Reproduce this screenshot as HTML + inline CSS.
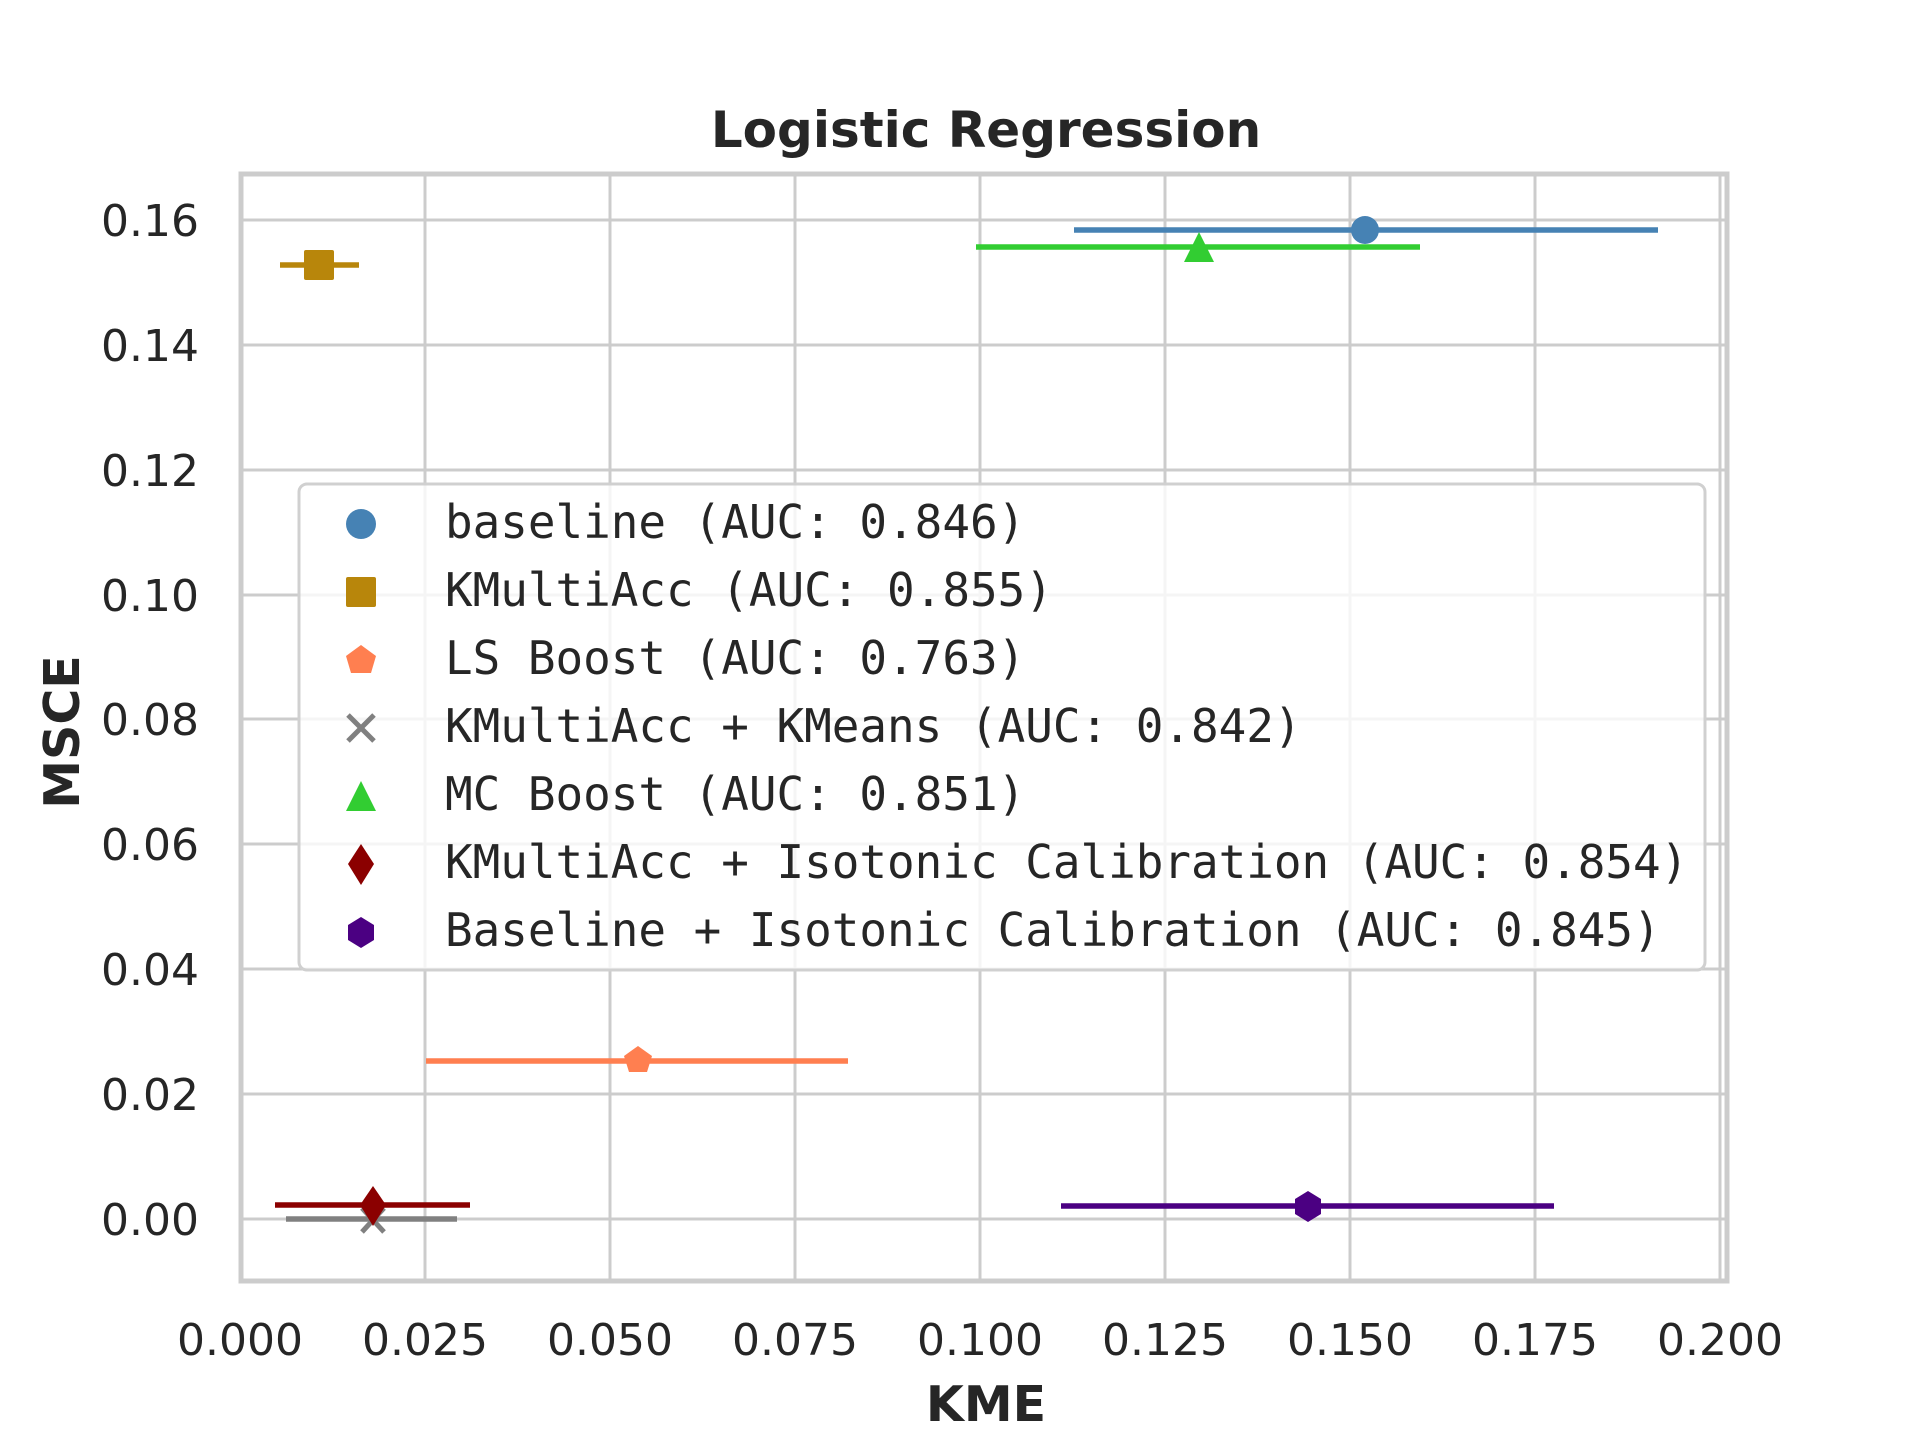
<!DOCTYPE html>
<html><head><meta charset="utf-8"><style>
html,body{margin:0;padding:0;background:#fff;}
svg{display:block;}
</style></head><body>
<svg width="1920" height="1440" viewBox="0 0 1920 1440" xmlns="http://www.w3.org/2000/svg">
<rect width="1920" height="1440" fill="#fff"/>
<!-- grid -->
<g stroke="#cccccc" stroke-width="3">
<line x1="425" y1="174" x2="425" y2="1281"/>
<line x1="610" y1="174" x2="610" y2="1281"/>
<line x1="795" y1="174" x2="795" y2="1281"/>
<line x1="980" y1="174" x2="980" y2="1281"/>
<line x1="1165" y1="174" x2="1165" y2="1281"/>
<line x1="1350" y1="174" x2="1350" y2="1281"/>
<line x1="1535" y1="174" x2="1535" y2="1281"/>
<line x1="1720" y1="174" x2="1720" y2="1281"/>
<line x1="242" y1="1219" x2="1727" y2="1219"/>
<line x1="242" y1="1094" x2="1727" y2="1094"/>
<line x1="242" y1="969" x2="1727" y2="969"/>
<line x1="242" y1="844" x2="1727" y2="844"/>
<line x1="242" y1="719" x2="1727" y2="719"/>
<line x1="242" y1="595" x2="1727" y2="595"/>
<line x1="242" y1="470" x2="1727" y2="470"/>
<line x1="242" y1="345" x2="1727" y2="345"/>
<line x1="242" y1="220" x2="1727" y2="220"/>
</g>
<rect x="241" y="174" width="1486" height="1107" fill="none" stroke="#cccccc" stroke-width="5"/>
<!-- series -->
<g stroke-width="5.5">
<line x1="1074" y1="230" x2="1658" y2="230" stroke="#4682b4"/>
<circle cx="1365" cy="230" r="14" fill="#4682b4"/>
<line x1="280" y1="265" x2="359" y2="265" stroke="#b8860b"/>
<rect x="304" y="250" width="30" height="30" rx="2" fill="#b8860b"/>
<line x1="426" y1="1061" x2="848" y2="1061" stroke="#ff7f50"/>
<polygon points="638,1046 652,1056 647,1072 629,1072 624,1056" fill="#ff7f50"/>
<line x1="286" y1="1219" x2="457" y2="1219" stroke="#808080"/>
<g stroke="#808080" stroke-width="5"><line x1="362" y1="1208" x2="384" y2="1232"/><line x1="384" y1="1208" x2="362" y2="1232"/></g>
<line x1="976" y1="247" x2="1420" y2="247" stroke="#32cd32"/>
<polygon points="1199,232 1214,262 1184,262" fill="#32cd32"/>
<line x1="275" y1="1205" x2="470" y2="1205" stroke="#8b0000"/>
<polygon points="373,1186 386,1205 373,1226 360,1205" fill="#8b0000"/>
<line x1="1061" y1="1206" x2="1554" y2="1206" stroke="#4b0082"/>
<polygon points="1308,1191 1321,1199 1321,1214 1308,1222 1295,1214 1295,1199" fill="#4b0082"/>
</g>
<!-- legend -->
<rect x="299" y="484" width="1406" height="486" rx="8" fill="#fff" fill-opacity="0.8" stroke="#d0d0d0" stroke-width="3"/>
<circle cx="361" cy="524" r="15" fill="#4682b4"/>
<rect x="346" y="577" width="30" height="30" rx="2" fill="#b8860b"/>
<polygon points="361,645 376,656 371,673 351,673 346,656" fill="#ff7f50"/>
<g stroke="#808080" stroke-width="5"><line x1="348" y1="715" x2="374" y2="741"/><line x1="374" y1="715" x2="348" y2="741"/></g>
<polygon points="361,781 376,811 346,811" fill="#32cd32"/>
<polygon points="361,844 374,864 361,885 348,864" fill="#8b0000"/>
<polygon points="361,917 374,925 374,940 361,948 348,940 348,925" fill="#4b0082"/>
<g font-family="DejaVu Sans Mono, Liberation Mono, monospace" font-size="45.9" fill="#262626">
<text x="445" y="538">baseline (AUC: 0.846)</text>
<text x="445" y="606">KMultiAcc (AUC: 0.855)</text>
<text x="445" y="674">LS Boost (AUC: 0.763)</text>
<text x="445" y="742">KMultiAcc + KMeans (AUC: 0.842)</text>
<text x="445" y="810">MC Boost (AUC: 0.851)</text>
<text x="445" y="878">KMultiAcc + Isotonic Calibration (AUC: 0.854)</text>
<text x="445" y="946">Baseline + Isotonic Calibration (AUC: 0.845)</text>
</g>
<!-- ticks labels -->
<g font-family="DejaVu Sans, Liberation Sans, sans-serif" font-size="44" fill="#262626" text-anchor="end">
<text x="199" y="236">0.16</text>
<text x="199" y="361">0.14</text>
<text x="199" y="486">0.12</text>
<text x="199" y="611">0.10</text>
<text x="199" y="735">0.08</text>
<text x="199" y="860">0.06</text>
<text x="199" y="985">0.04</text>
<text x="199" y="1110">0.02</text>
<text x="199" y="1235">0.00</text>
</g>
<g font-family="DejaVu Sans, Liberation Sans, sans-serif" font-size="44" fill="#262626" text-anchor="middle">
<text x="240" y="1355">0.000</text>
<text x="425" y="1355">0.025</text>
<text x="610" y="1355">0.050</text>
<text x="795" y="1355">0.075</text>
<text x="980" y="1355">0.100</text>
<text x="1165" y="1355">0.125</text>
<text x="1350" y="1355">0.150</text>
<text x="1535" y="1355">0.175</text>
<text x="1720" y="1355">0.200</text>
</g>
<g font-family="DejaVu Sans, Liberation Sans, sans-serif" font-weight="bold" fill="#262626" text-anchor="middle">
<text x="986" y="147" font-size="50">Logistic Regression</text>
<text x="986" y="1421" font-size="49">KME</text>
<text transform="translate(79,732) rotate(-90)" font-size="49">MSCE</text>
</g>
</svg>
</body></html>
